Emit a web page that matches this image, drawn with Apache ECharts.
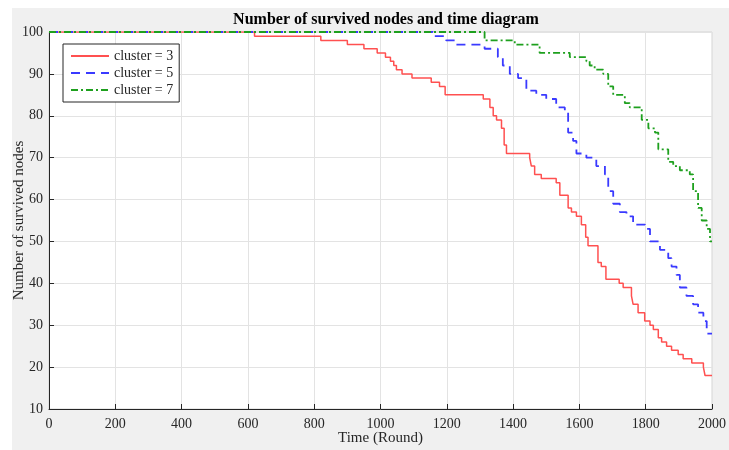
<!DOCTYPE html>
<html>
<head>
<meta charset="utf-8">
<script src="https://cdn.jsdelivr.net/npm/echarts@6/dist/echarts.min.js"></script>
<style>
html,body{margin:0;padding:0;background:#ffffff;}
#bg{position:absolute;left:12px;top:8px;width:717px;height:442px;background:#f0f0f0;}
#chart{position:absolute;left:0;top:0;width:729px;height:450px;}
</style>
</head>
<body>
<div id="bg"></div>
<div id="chart"></div>
<script>
// Data (round at which the count changes, new count)
const seriesNames = ['cluster = 3', 'cluster = 5', 'cluster = 7'];
const xTicks = [0, 200, 400, 600, 800, 1000, 1200, 1400, 1600, 1800, 2000];
const yTicks = [10, 20, 30, 40, 50, 60, 70, 80, 90, 100];

const redX = [0,620,820,900,950,990,1015,1030,1040,1048,1065,1095,1153,1178,1195,1310,1330,1340,1350,1365,1373,1380,1450,1455,1465,1485,1530,1541,1566,1576,1591,1606,1619,1626,1656,1666,1680,1720,1732,1757,1762,1777,1797,1813,1823,1838,1848,1863,1878,1898,1913,1939,1974,1979,2000];
const redY = [100,99,98,97,96,95,94,93,92,91,90,89,88,87,85,84,82,80,79,77,73,71,70,68,66,65,64,61,58,57,56,54,51,49,45,44,41,40,39,37,35,33,31,30,29,27,26,25,24,23,22,21,20,18,18];

const blueX = [0,1158,1198,1229,1314,1354,1369,1390,1415,1440,1470,1500,1530,1556,1566,1581,1591,1621,1651,1677,1687,1702,1722,1742,1762,1798,1813,1843,1868,1878,1893,1903,1923,1943,1958,1974,1984,2000];
const blueY = [100,99,98,97,96,94,92,90,89,86,85,84,82,81,76,74,71,70,68,66,62,59,57,56,54,53,50,48,46,44,42,39,37,35,33,31,28,28];

const greenX = [0,1314,1405,1480,1571,1621,1631,1646,1672,1687,1702,1737,1752,1788,1808,1828,1838,1868,1883,1903,1933,1943,1958,1969,1984,1994,2000];
const greenY = [100,98,97,95,94,93,92,91,90,87,85,83,82,79,77,76,72,69,68,67,66,62,58,55,53,50,50];

function pairs(xs, ys){ return xs.map((x,i)=>[x, ys[i]]); }

const FONT = 'Liberation Serif';
const TXT = '#262626';

const chart = echarts.init(document.getElementById('chart'), null, {renderer:'canvas'});
chart.setOption({
  backgroundColor: 'transparent',
  animation: false,
  title: {
    text: 'Number of survived nodes and time diagram',
    left: 381, top: 7, textAlign: 'center',
    textStyle: {fontFamily: FONT, fontSize: 16, fontWeight: 'bold', color: '#000'}
  },
  grid: {left: 49, right: 17, top: 32, bottom: 41, containLabel: false, outerBoundsMode: 'none',
         show: true, backgroundColor: '#ffffff', borderColor: '#d4d4d4', borderWidth: 1},
  legend: {
    orient: 'vertical', left: 63, top: 44,
    backgroundColor: '#ffffff', borderColor: '#262626', borderWidth: 1,
    padding: [5, 6, 5, 7], itemGap: 3, itemWidth: 38, itemHeight: 14,
    itemStyle: {opacity: 0},
    textStyle: {fontFamily: FONT, fontSize: 14, color: TXT},
    data: seriesNames
  },
  xAxis: {
    type: 'value', min: 0, max: 2000, interval: 200,
    name: 'Time (Round)', nameLocation: 'middle', nameGap: 22, nameMoveOverlap: false,
    nameTextStyle: {fontFamily: FONT, fontSize: 15, color: TXT},
    axisLine: {show: true, lineStyle: {color: TXT, width: 1}},
    axisTick: {show: true, inside: true, length: 5, lineStyle: {color: TXT}},
    axisLabel: {fontFamily: FONT, fontSize: 14, color: TXT, margin: 8, formatter: v => String(v)},
    splitLine: {show: true, lineStyle: {color: '#e3e3e3', width: 1}}
  },
  yAxis: {
    type: 'value', min: 10, max: 100, interval: 10,
    name: 'Number of survived nodes', nameLocation: 'middle', nameGap: 22, nameMoveOverlap: false,
    nameTextStyle: {fontFamily: FONT, fontSize: 15, color: TXT},
    axisLine: {show: true, lineStyle: {color: TXT, width: 1}},
    axisTick: {show: true, inside: true, length: 5, lineStyle: {color: TXT}},
    axisLabel: {fontFamily: FONT, fontSize: 14, color: TXT, margin: 6, formatter: v => String(v)},
    splitLine: {show: true, lineStyle: {color: '#e3e3e3', width: 1}}
  },
  series: [
    {name: seriesNames[0], type: 'line', step: 'end', symbol: 'none', data: pairs(redX, redY),
     lineStyle: {color: '#ff5050', width: 1.5, type: 'solid'}, itemStyle: {color: '#ff5050'}, z: 3},
    {name: seriesNames[1], type: 'line', step: 'end', symbol: 'none', data: pairs(blueX, blueY),
     lineStyle: {color: '#3a3aff', width: 1.8, type: [9, 6]}, itemStyle: {color: '#3a3aff'}, z: 4},
    {name: seriesNames[2], type: 'line', step: 'end', symbol: 'none', data: pairs(greenX, greenY),
     lineStyle: {color: '#1ea01e', width: 1.8, type: [7, 3, 2, 3]}, itemStyle: {color: '#1ea01e'}, z: 5}
  ]
});
</script>
</body>
</html>
